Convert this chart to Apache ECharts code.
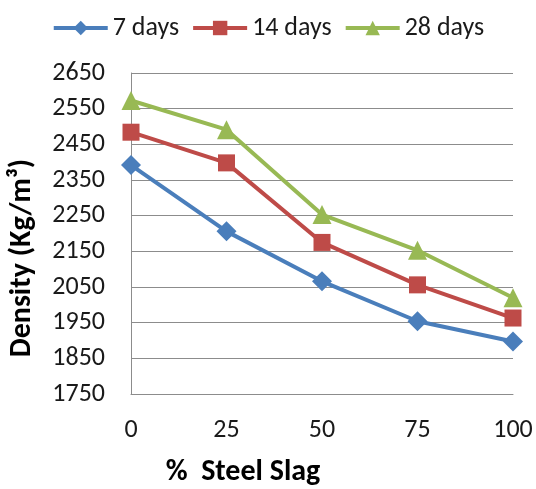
<!DOCTYPE html>
<html><head><meta charset="utf-8">
<script src="https://cdn.jsdelivr.net/npm/echarts@6/dist/echarts.min.js"></script>
<style>html,body{margin:0;padding:0;background:#fff}#c{width:536px;height:489px}</style>
</head><body><div id="c"></div>
<script>
const categories = ['0', '25', '50', '75', '100'];
const days7 = [2392, 2206, 2066, 1954, 1897];
const days14 = [2484, 2398, 2175, 2056, 1963];
const days28 = [2573, 2491, 2253, 2153, 2020];
const yTicks = [1750, 1850, 1950, 2050, 2150, 2250, 2350, 2450, 2550, 2650];

const FONT = 'Carlito, Lato, sans-serif';
const chart = echarts.init(document.getElementById('c'), null, {renderer: 'canvas'});
chart.setOption({
  animation: false,
  backgroundColor: '#fff',
  legend: {
    top: 10, left: 'center',
    itemWidth: 54, itemHeight: 18, itemGap: 12,
    lineStyle: {width: 4},
    textStyle: {fontFamily: FONT, fontSize: 26, color: '#1a1a1a'},
    data: ['7 days', '14 days', '28 days']
  },
  grid: {left: 131, right: 23, top: 73, bottom: 95},
  xAxis: {
    type: 'category', data: categories, boundaryGap: false,
    axisLine: {lineStyle: {color: '#8c8c8c', width: 1}},
    axisTick: {show: false},
    axisLabel: {margin: 23, fontFamily: FONT, fontSize: 26, color: '#1a1a1a'},
    splitLine: {show: false}
  },
  yAxis: {
    type: 'value', min: yTicks[0], max: yTicks[yTicks.length - 1], interval: 100,
    axisLine: {show: true, lineStyle: {color: '#8c8c8c', width: 1}},
    axisTick: {show: false},
    axisLabel: {margin: 26, fontFamily: FONT, fontSize: 26, color: '#1a1a1a', formatter: v => String(v)},
    splitLine: {lineStyle: {color: '#8c8c8c', width: 1}}
  },
  graphic: [
    {type: 'text', x: 22, y: 258, rotation: Math.PI / 2,
     style: {text: 'Density (Kg/m³)', fontFamily: FONT, fontWeight: 'bold', fontSize: 30, fill: '#000', textAlign: 'center', textVerticalAlign: 'middle'}},
    {type: 'text', x: 243, y: 472,
     style: {text: '%  Steel Slag', fontFamily: FONT, fontWeight: 'bold', fontSize: 30, fill: '#000', textAlign: 'center', textVerticalAlign: 'middle'}}
  ],
  series: [
    {name: '7 days', type: 'line', data: days7, symbol: 'diamond', symbolSize: 20,
     lineStyle: {color: '#4a7ebb', width: 4}, itemStyle: {color: '#4a7ebb'}},
    {name: '14 days', type: 'line', data: days14, symbol: 'rect', symbolSize: 17,
     lineStyle: {color: '#be4b48', width: 4}, itemStyle: {color: '#be4b48'}},
    {name: '28 days', type: 'line', data: days28, symbol: 'triangle', symbolSize: 19,
     lineStyle: {color: '#98b954', width: 4}, itemStyle: {color: '#98b954'}}
  ]
});
</script></body></html>
